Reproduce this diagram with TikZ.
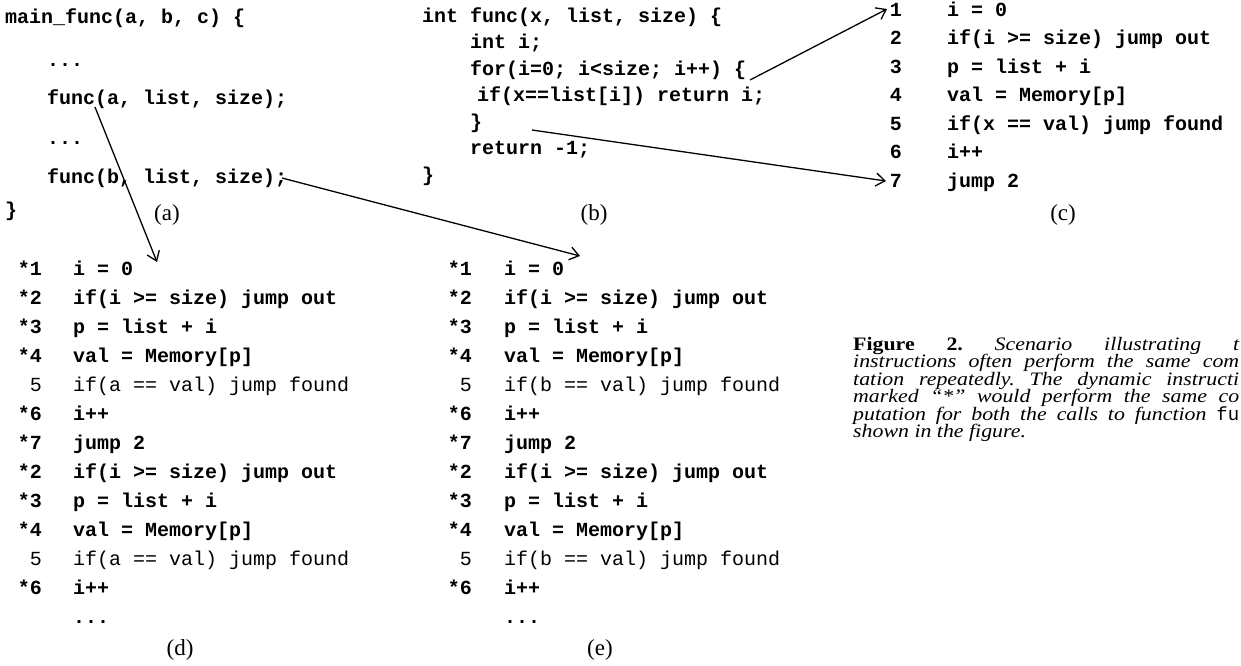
\documentclass[tikz,border=0pt]{standalone}
\usepackage{fontspec}
\setmainfont{Liberation Serif}
\newfontfamily\codefont{Liberation Mono}
\newfontfamily\capfont[FakeStretch=1.15]{Liberation Serif}
\usetikzlibrary{arrows.meta}
\tikzset{
  code/.style={anchor=base west, inner sep=0pt, font=\codefont\bfseries\fontsize{20}{24}\selectfont},
  codel/.style={anchor=base west, inner sep=0pt, font=\codefont\fontsize{20}{24}\selectfont},
  num/.style={anchor=base east, inner sep=0pt, font=\codefont\bfseries\fontsize{20}{24}\selectfont},
  numl/.style={anchor=base east, inner sep=0pt, font=\codefont\fontsize{20}{24}\selectfont},
  lab/.style={anchor=base, inner sep=0pt, font=\fontsize{23}{27}\selectfont},
  captext/.style={anchor=north west, inner sep=0pt, font=\capfont\itshape\fontsize{19}{17.5}\selectfont},
  link/.style={line width=1.3pt, -{Straight Barb[length=9pt,width=13pt,line width=1.3pt]}},
}
\begin{document}
\begin{tikzpicture}[x=1pt,y=-1pt]
\useasboundingbox (0,0) rectangle (1241,665);
\clip (0,0) rectangle (1241,665);
\fill[white] (0,0) rectangle (1241,665);

% (a)
\node[code] (a1) at (5,23) {main\_func(a, b, c) \{};
\node[code] (a2) at (47,66) {...};
\node[code] (a3) at (47,104) {func(a, list, size);};
\node[code] (a4) at (47,144) {...};
\node[code] (a5) at (47,183) {func(b, list, size);};
\node[code] (a6) at (5,216) {\}};
\node[lab] (la) at (167,220) {(a)};

% (b)
\node[code] (b1) at (422,22) {int func(x, list, size) \{};
\node[code] (b2) at (470,48) {int i;};
\node[code] (b3) at (470,75) {for(i=0; i<size; i++) \{};
\node[code] (b4) at (477,101) {if(x==list[i]) return i;};
\node[code] (b5) at (470,128) {\}};
\node[code] (b6) at (470,154) {return -1;};
\node[code] (b7) at (422,181) {\}};
\node[lab] (lb) at (594,220) {(b)};

% (c)
\foreach \n/\t [count=\k from 0] in {1/{i = 0},2/{if(i >= size) jump out},3/{p = list + i},4/{val = Memory[p]},5/{if(x == val) jump found},6/{i++},7/{jump 2}}{
  \node[num] (cn\n) at (902,{16+28.5*\k}) {\n};
  \node[code] (c\n) at (947,{16+28.5*\k}) {\t};
}
\node[lab] (lc) at (1063,220) {(c)};

% (d) and (e)
\foreach \pre/\xn/\xc/\v in {d/42/73/a,e/472/504/b}{
  \foreach \n/\s/\t [count=\k from 0] in {
    1/*/{i = 0},
    2/*/{if(i >= size) jump out},
    3/*/{p = list + i},
    4/*/{val = Memory[p]},
    5/{}/{if(\v\space== val) jump found},
    6/*/{i++},
    7/*/{jump 2},
    8/*/{if(i >= size) jump out},
    9/*/{p = list + i},
    10/*/{val = Memory[p]},
    11/{}/{if(\v\space== val) jump found},
    12/*/{i++}}{
    \ifnum\n=5 \def\sty{l}\else\ifnum\n=11 \def\sty{l}\else\def\sty{}\fi\fi
    \pgfmathtruncatemacro{\lbl}{\n>7 ? \n-6 : \n}
    \node[num\sty] (\pre n\n) at (\xn,{275+29*\k}) {\s\lbl};
    \node[code\sty] (\pre\n) at (\xc,{275+29*\k}) {\t};
  }
  \node[code] (\pre dots) at (\xc,623) {...};
}
\node[lab] (ld) at (180,655) {(d)};
\node[lab] (le) at (600,655) {(e)};

% caption (the reference cuts these lines at its right edge)
\node[captext] (caption) at (853,337) {\vbox{\baselineskip=17.5pt\lineskiplimit=-20pt
  \hbox to 386pt{\upshape\bfseries Figure\hfill 2.\hfill\mdseries\itshape Scenario\hfill illustrating\hfill t}
  \hbox to 386pt{instructions\hfill often\hfill perform\hfill the\hfill same\hfill com}
  \hbox to 386pt{tation\hfill repeatedly.\hfill The\hfill dynamic\hfill instructi}
  \hbox to 386pt{marked\hfill “*”\hfill would\hfill perform\hfill the\hfill same\hfill co}
  \hbox to 386pt{putation\hfill for\hfill both\hfill the\hfill calls\hfill to\hfill function\hfill{\upshape\codefont fu}}
  \hbox{shown in the figure.}}};

% connectors
\coordinate (s1) at (95,107);
\coordinate (t1) at (157,262);
\coordinate (s2) at (282,178);
\coordinate (t2) at (580,256);
\coordinate (s3) at (750,80);
\coordinate (t3) at (887,9);
\coordinate (s4) at (532,130);
\coordinate (t4) at (886,181);
\draw[link] (s1) -- (t1);
\draw[link] (s2) -- (t2);
\draw[link] (s3) -- (t3);
\draw[link] (s4) -- (t4);
\end{tikzpicture}
\end{document}
